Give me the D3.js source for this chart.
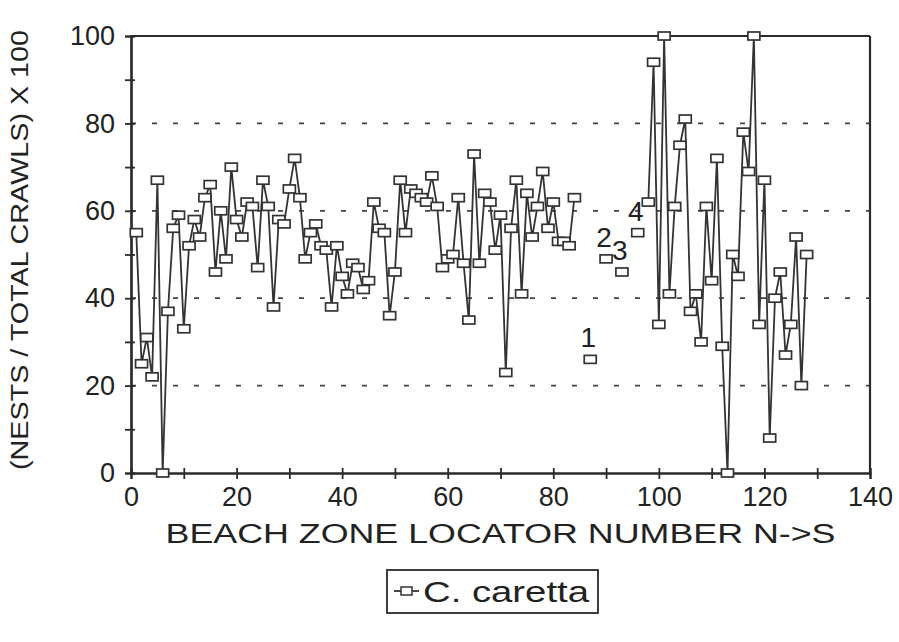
<!DOCTYPE html>
<html>
<head>
<meta charset="utf-8">
<script src="https://cdn.jsdelivr.net/npm/d3@7"></script>
<style>
  body { margin: 0; background: #fff; }
  svg { font-family: "Liberation Sans", Arial, sans-serif; }
</style>
</head>
<body>
<div id="chart"></div>
<script>
// north part of the beach, zones 1-84
var zonesNorth = [1,2,3,4,5,6,7,8,9,10,11,12,13,14,15,16,17,18,19,20,
  21,22,23,24,25,26,27,28,29,30,31,32,33,34,35,36,37,38,39,40,
  41,42,43,44,45,46,47,48,49,50,51,52,53,54,55,56,57,58,59,60,
  61,62,63,64,65,66,67,68,69,70,71,72,73,74,75,76,77,78,79,80,
  81,82,83,84];
var valuesNorth = [55,25,31,22,67,0,37,56,59,33,52,58,54,63,66,46,60,49,70,58,
  54,62,61,47,67,61,38,58,57,65,72,63,49,55,57,52,51,38,52,45,
  41,48,47,42,44,62,56,55,36,46,67,55,65,64,63,62,68,61,47,49,
  50,63,48,35,73,48,64,62,51,59,23,56,67,41,64,54,61,69,56,62,
  53,53,52,63];

// south part, zones 98-128
var zonesSouth = [98,99,100,101,102,103,104,105,106,107,108,109,110,111,112,113,
  114,115,116,117,118,119,120,121,122,123,124,125,126,127,128];
var valuesSouth = [62,94,34,100,41,61,75,81,37,41,30,61,44,72,29,0,
  50,45,78,69,100,34,67,8,40,46,27,34,54,20,50];

// single zones with a number written above
var zonesSingle = [87,90,93,96];
var valuesSingle = [26,49,46,55];
var labelsSingle = ["1","2","3","4"];

var xTicks = [0,20,40,60,80,100,120,140];
var yTicks = [0,20,40,60,80,100];
var gridValues = [20,40,60,80];

var w = 899, h = 642;
var pl = 131, pr = 870, pt = 36, pb = 473;
var ink = "#2b2b2b";

var x = d3.scaleLinear().domain([0, 140]).range([pl, pr]);
var y = d3.scaleLinear().domain([0, 100]).range([pb, pt]);

var svg = d3.select("#chart").append("svg")
  .attr("width", w).attr("height", h);

// dotted grid
svg.append("g").selectAll("line")
  .data(gridValues).enter().append("line")
  .attr("x1", pl).attr("x2", pr)
  .attr("y1", d => y(d)).attr("y2", d => y(d))
  .attr("stroke", "#444").attr("stroke-width", 1.8)
  .attr("stroke-dasharray", "5,16");

// frame top and right
svg.append("line").attr("x1", pl).attr("x2", pr)
  .attr("y1", y(100)).attr("y2", y(100))
  .attr("stroke", ink).attr("stroke-width", 2.2);
svg.append("line").attr("x1", pr).attr("x2", pr)
  .attr("y1", y(100)).attr("y2", y(0))
  .attr("stroke", ink).attr("stroke-width", 2.2);

// axes
var yAxis = d3.axisLeft(y).tickValues(d3.range(0, 101, 10))
  .tickSize(6).tickPadding(10)
  .tickFormat(d => yTicks.indexOf(d) >= 0 ? d : "");
var xAxis = d3.axisBottom(x).tickValues(d3.range(0, 141, 10))
  .tickSize(6).tickPadding(8)
  .tickFormat(d => xTicks.indexOf(d) >= 0 ? d : "");

svg.append("g").attr("transform", "translate(" + pl + ",0)").call(yAxis);
svg.append("g").attr("transform", "translate(0," + pb + ")").call(xAxis);

// inner half of the crossing ticks
svg.append("g").attr("transform", "translate(" + pl + ",0)")
  .call(d3.axisRight(y).tickValues(d3.range(0, 101, 10)).tickSize(4).tickFormat(""));
svg.append("g").attr("transform", "translate(0," + pb + ")")
  .call(d3.axisTop(x).tickValues(d3.range(0, 141, 10)).tickSize(5).tickFormat(""));

svg.selectAll(".domain").attr("stroke", ink).attr("stroke-width", 2.2);
svg.selectAll(".tick line").attr("stroke", ink).attr("stroke-width", 1.8);
svg.selectAll(".tick text").attr("fill", "#222").style("font-size", "27px");

// series
var line = d3.line().x(d => x(d[0])).y(d => y(d[1]));
var north = zonesNorth.map((z, i) => [z, valuesNorth[i]]);
var south = zonesSouth.map((z, i) => [z, valuesSouth[i]]);
var single = zonesSingle.map((z, i) => [z, valuesSingle[i], labelsSingle[i]]);

[north, south].forEach(function (seg) {
  svg.append("path").datum(seg)
    .attr("d", line)
    .attr("fill", "none")
    .attr("stroke", "#333")
    .attr("stroke-width", 1.8);
});

var mw = 12, mh = 8;
svg.append("g").selectAll("rect")
  .data(north.concat(south, single)).enter().append("rect")
  .attr("x", d => x(d[0]) - mw / 2)
  .attr("y", d => y(d[1]) - mh / 2)
  .attr("width", mw).attr("height", mh)
  .attr("fill", "#fff")
  .attr("stroke", "#333").attr("stroke-width", 1.7);

svg.append("g").selectAll("text")
  .data(single).enter().append("text")
  .attr("x", d => x(d[0]) - 2)
  .attr("y", d => y(d[1]) - 12)
  .attr("text-anchor", "middle")
  .attr("fill", "#222")
  .style("font-size", "28px")
  .text(d => d[2]);

// axis titles
svg.append("text")
  .attr("x", (pl + pr) / 2).attr("y", 543)
  .attr("text-anchor", "middle")
  .attr("fill", "#222")
  .style("font-size", "27px")
  .attr("textLength", 670).attr("lengthAdjust", "spacingAndGlyphs")
  .text("BEACH ZONE LOCATOR NUMBER  N->S");

svg.append("text")
  .attr("transform", "translate(28,250) rotate(-90)")
  .attr("text-anchor", "middle")
  .attr("fill", "#222")
  .style("font-size", "23px")
  .attr("textLength", 440).attr("lengthAdjust", "spacingAndGlyphs")
  .text("(NESTS / TOTAL CRAWLS)  X 100");

// legend
var lg = svg.append("g").attr("transform", "translate(387,570)");
lg.append("rect").attr("width", 211).attr("height", 43)
  .attr("fill", "#fff").attr("stroke", ink).attr("stroke-width", 1.8);
lg.append("line").attr("x1", 7).attr("x2", 32).attr("y1", 21).attr("y2", 21)
  .attr("stroke", "#333").attr("stroke-width", 1.8);
lg.append("rect").attr("x", 14).attr("y", 17).attr("width", 11).attr("height", 8)
  .attr("fill", "#fff").attr("stroke", "#333").attr("stroke-width", 1.5);
lg.append("text").attr("x", 36).attr("y", 32)
  .attr("fill", "#222").style("font-size", "29px")
  .attr("textLength", 166).attr("lengthAdjust", "spacingAndGlyphs")
  .text("C. caretta");
</script>
</body>
</html>
